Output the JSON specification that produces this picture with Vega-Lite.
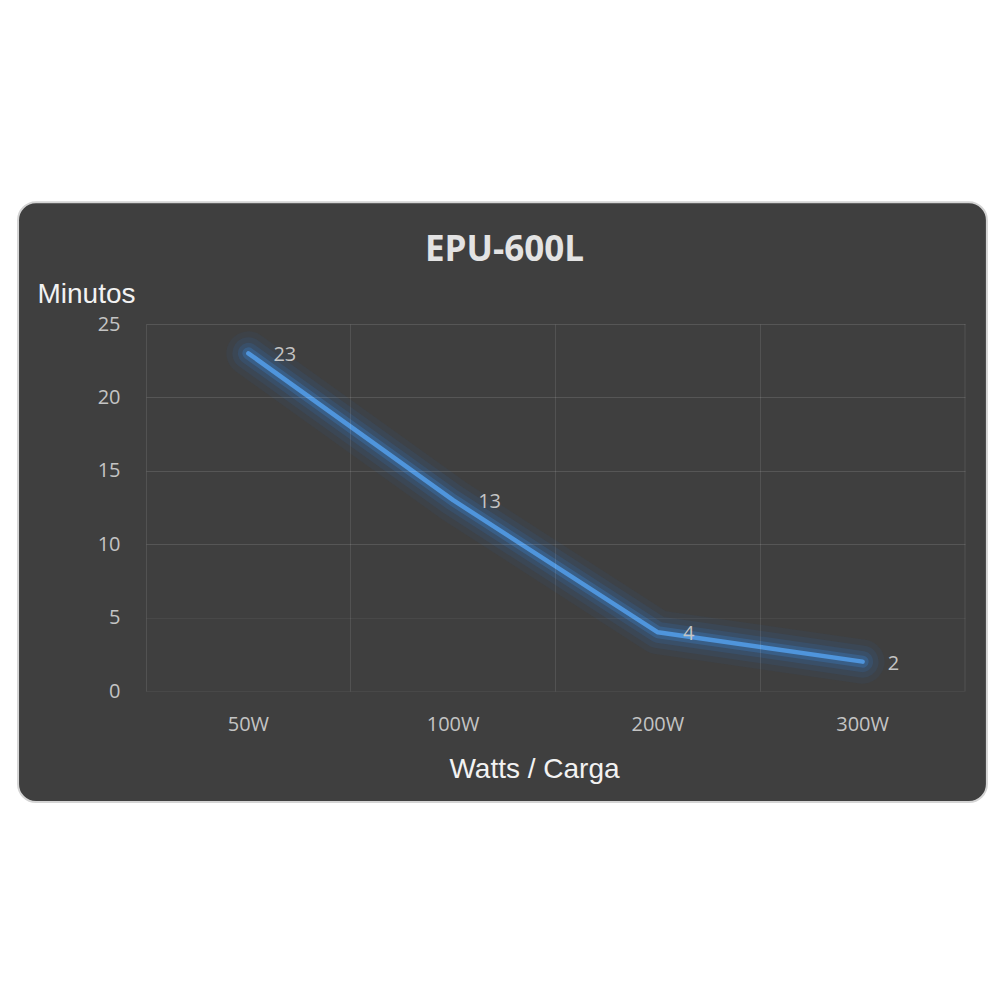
{
  "$schema": "https://vega.github.io/schema/vega-lite/v6.json",
  "width": 819,
  "height": 367,
  "autosize": "none",
  "padding": {"left": 146, "top": 324, "right": 35, "bottom": 309},
  "background": "white",
  "title": {
    "text": "EPU-600L",
    "frame": "group",
    "anchor": "middle",
    "dx": -51,
    "dy": 158,
    "offset": 63,
    "baseline": "alphabetic",
    "font": "Open Sans",
    "fontSize": 35,
    "fontWeight": "bold",
    "color": "#e3e3e3",
    "zindex": 2
  },
  "data": {
    "values": [
      {"carga": "50W", "minutos": 23},
      {"carga": "100W", "minutos": 13},
      {"carga": "200W", "minutos": 4},
      {"carga": "300W", "minutos": 2}
    ]
  },
  "layer": [
    {
      "data": {"values": [{"panel": "fondo"}]},
      "mark": {
        "type": "rect",
        "fill": "#3f3f3f",
        "stroke": "#d4d4d4",
        "strokeWidth": 2,
        "cornerRadius": 18,
        "clip": false
      },
      "encoding": {
        "x": {"datum": "50W", "type": "nominal", "bandPosition": -0.625},
        "x2": {"datum": "300W", "bandPosition": 1.107},
        "y": {"datum": 33.3, "type": "quantitative"},
        "y2": {"datum": -7.56}
      }
    },
    {
      "data": {"values": [{"panel": "borde"}]},
      "mark": {"type": "rule", "color": "white", "opacity": 0.1, "strokeWidth": 1},
      "encoding": {
        "x": {"datum": "300W", "type": "nominal", "bandPosition": 1},
        "y": {"datum": 0, "type": "quantitative"},
        "y2": {"datum": 25}
      }
    },
    {
      "encoding": {
        "x": {
          "field": "carga",
          "type": "nominal",
          "scale": {"type": "band", "domain": ["50W", "100W", "200W", "300W"], "paddingInner": 0, "paddingOuter": 0},
          "axis": {
            "title": "Watts / Carga",
            "zindex": 1,
            "bandPosition": 0,
            "labelAngle": 0,
            "labelAlign": "center",
            "labelPadding": 33,
            "ticks": false,
            "domain": false,
            "grid": true,
            "gridOpacity": 0.1,
            "titleX": 388,
            "titleY": 86,
            "titleAlign": "center",
            "titleBaseline": "alphabetic"
          }
        },
        "y": {
          "field": "minutos",
          "type": "quantitative",
          "scale": {"domain": [0, 25], "nice": false},
          "axis": {
            "title": "Minutos",
            "zindex": 1,
            "grid": true,
            "gridOpacity": {"condition": {"test": "datum.value <= 5", "value": 0.05}, "value": 0.12},
            "values": [0, 5, 10, 15, 20, 25],
            "ticks": false,
            "domain": false,
            "labelPadding": 26,
            "titleAngle": 0,
            "titleX": -109,
            "titleY": -22,
            "titleAlign": "left",
            "titleBaseline": "alphabetic"
          }
        }
      },
      "layer": [
        {"mark": {"type": "line", "color": "#2a6ab3", "strokeWidth": 44, "opacity": 0.08, "strokeCap": "round", "strokeJoin": "round"}},
        {"mark": {"type": "line", "color": "#2e6fb8", "strokeWidth": 32, "opacity": 0.12, "strokeCap": "round", "strokeJoin": "round"}},
        {"mark": {"type": "line", "color": "#3275c0", "strokeWidth": 21, "opacity": 0.18, "strokeCap": "round", "strokeJoin": "round"}},
        {"mark": {"type": "line", "color": "#3a80cc", "strokeWidth": 12, "opacity": 0.3, "strokeCap": "round", "strokeJoin": "round"}},
        {"mark": {"type": "line", "color": "#4f95dc", "strokeWidth": 4.5, "strokeCap": "round", "strokeJoin": "round"}},
        {
          "mark": {
            "type": "text",
            "align": "left",
            "baseline": "middle",
            "dx": 25,
            "dy": 2,
            "font": "Open Sans",
            "fontSize": 20,
            "color": "#c4c4c4"
          },
          "encoding": {"text": {"field": "minutos", "type": "quantitative"}}
        }
      ]
    }
  ],
  "config": {
    "view": {"stroke": null},
    "axis": {
      "labelFont": "Open Sans",
      "labelFontSize": 20,
      "labelColor": "#c4c4c4",
      "titleFont": "Liberation Sans",
      "titleFontSize": 28,
      "titleFontWeight": "normal",
      "titleColor": "#f2f2f2",
      "gridColor": "white",
      "gridWidth": 1
    }
  }
}
